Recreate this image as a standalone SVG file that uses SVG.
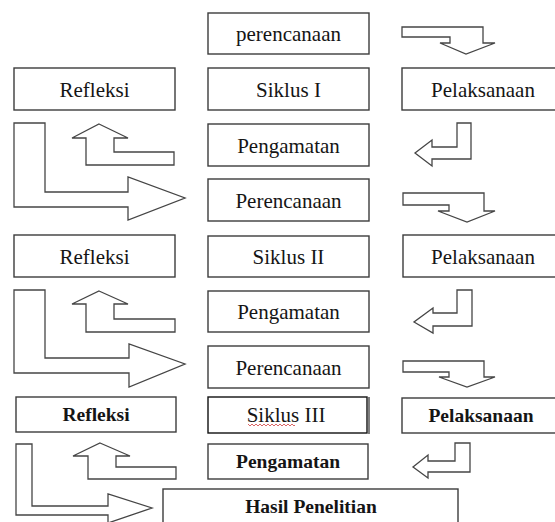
<svg xmlns="http://www.w3.org/2000/svg" width="555" height="522" viewBox="0 0 555 522">
<style>
.box{fill:#fff;stroke:#3c3c3c;stroke-width:1.4}
.t{font-family:'Liberation Serif','DejaVu Serif','Noto Serif',serif;font-size:21px;fill:#151515;text-anchor:middle}
.b{font-weight:bold;font-size:19.5px}
.arr{fill:#fff;stroke:#454545;stroke-width:1.3;stroke-linejoin:miter}
</style>
<rect width="555" height="522" fill="#fff"/>
<g id="connectors">
<polygon class="arr" points="99,124 128,138 114,138 114,152 174,152 174,165 86,165 86,138 72,138"/>
<polygon class="arr" points="99,291 128,304 114,304 114,319 175,319 175,332 86,332 86,304 72,304"/>
<polygon class="arr" points="100,443 130,456 116,456 116,467 176,467 176,479 88,479 88,456 73,456"/>
<polygon class="arr" points="14,123 45,123 45,192 128,192 128,177 185,198 128,220 128,207 14,207"/>
<polygon class="arr" points="14,290 45,290 45,358 129,358 129,344 185,364 129,387 129,373 14,373"/>
<polygon class="arr" points="16,444 32,444 32,506 108,506 108,494 152,508 108,523 108,515 16,515"/>
<polygon class="arr" points="402,27 483,27 483,43 495,43 466,54 440,43 450,43 450,37 402,37"/>
<polygon class="arr" points="457,123 471,123 471,159 432,159 432,166 415,153 432,140 432,147 457,147"/>
<polygon class="arr" points="403,193 484,193 484,211 495,211 467,222 438,211 449,211 449,205 403,205"/>
<polygon class="arr" points="457,290 472,290 472,326 433,326 433,333 414,322 433,308 433,313 457,313"/>
<polygon class="arr" points="403,361 484,361 484,377 495,377 467,387 439,377 449,377 449,372 403,372"/>
<polygon class="arr" points="455,443 470,443 470,472 428,472 428,478 413,467 428,455 428,461 455,461"/>
</g>
<g id="perencanaan1"><rect class="box" x="208" y="13" width="161" height="41"/><text class="t" x="288.5" y="40.5">perencanaan</text></g>
<g id="refleksi1"><rect class="box" x="14" y="68" width="161" height="42"/><text class="t" x="94.5" y="96.5">Refleksi</text></g>
<g id="siklus1"><rect class="box" x="208" y="68" width="161" height="42"/><text class="t" x="288.5" y="96.5">Siklus I</text></g>
<g id="pelaksanaan1"><rect class="box" x="402" y="68" width="165" height="42"/><text class="t" x="483" y="96.5">Pelaksanaan</text></g>
<g id="pengamatan1"><rect class="box" x="208" y="124" width="161" height="42"/><text class="t" x="288.5" y="152.5">Pengamatan</text></g>
<g id="perencanaan2"><rect class="box" x="208" y="179" width="161" height="42"/><text class="t" x="288.5" y="207.5">Perencanaan</text></g>
<g id="refleksi2"><rect class="box" x="14" y="235" width="161" height="42"/><text class="t" x="94.5" y="263.5">Refleksi</text></g>
<g id="siklus2"><rect class="box" x="208" y="236" width="161" height="41"/><text class="t" x="288.5" y="264">Siklus II</text></g>
<g id="pelaksanaan2"><rect class="box" x="403" y="235" width="165" height="42"/><text class="t" x="483" y="263.5">Pelaksanaan</text></g>
<g id="pengamatan2"><rect class="box" x="208" y="291" width="161" height="41"/><text class="t" x="288.5" y="319">Pengamatan</text></g>
<g id="perencanaan3"><rect class="box" x="208" y="346" width="161" height="42"/><text class="t" x="288.5" y="374.5">Perencanaan</text></g>
<g id="refleksi3"><rect class="box" x="16" y="397" width="160" height="35"/><text class="t b" x="96" y="421">Refleksi</text></g>
<g id="siklus3"><rect class="box" x="208" y="397" width="159" height="36" style="stroke:#111"/><line x1="369" y1="397" x2="369" y2="434" stroke="#555" stroke-width="1.5"/><text class="t" x="286" y="422">Siklus III</text><path d="M248,424 l2,2 l2,-2 l2,2 l2,-2 l2,2 l2,-2 l2,2 l2,-2 l2,2 l2,-2 l2,2 l2,-2 l2,2 l2,-2 l2,2 l2,-2 l2,2 l2,-2 l2,2 l2,-2 l2,2 l2,-2 l2,2 l1,-1" fill="none" stroke="#d04040" stroke-width="0.8"/></g>
<g id="pelaksanaan3"><rect class="box" x="402" y="398" width="165" height="35"/><text class="t b" x="481" y="422">Pelaksanaan</text></g>
<g id="pengamatan3"><rect class="box" x="208" y="444" width="160" height="35"/><text class="t b" x="288" y="468">Pengamatan</text></g>
<g id="hasil"><rect class="box" x="163" y="489" width="295" height="50"/><text class="t b" x="311" y="513">Hasil Penelitian</text></g>
</svg>
